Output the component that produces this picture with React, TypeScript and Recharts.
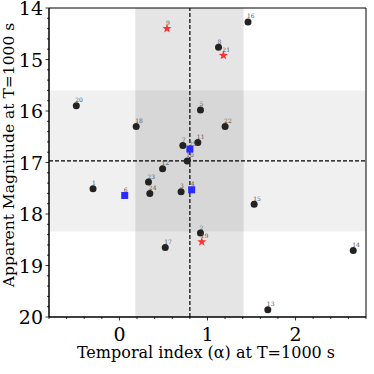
import { ScatterChart, Scatter, XAxis, YAxis, ReferenceArea, ReferenceLine, Label } from "recharts";

// black circles
const circleIds = ["1", "2", "3", "5", "7", "8", "10", "11", "12", "13", "14", "15", "16", "17", "18", "20", "22", "23", "24"];
const circleAlpha = [-0.3, 0.92, 0.7, 0.92, 0.72, 1.125, 0.77, 0.89, 0.49, 1.685, 2.655, 1.53, 1.46, 0.52, 0.19, -0.49, 1.2, 0.33, 0.345];
const circleMag = [17.51, 18.37, 17.57, 15.98, 16.67, 14.76, 16.97, 16.61, 17.12, 19.86, 18.71, 17.81, 14.27, 18.65, 16.3, 15.9, 16.3, 17.38, 17.6];

// blue squares
const squareIds = ["6", "4", "25"];
const squareAlpha = [0.06, 0.82, 0.8];
const squareMag = [17.64, 17.53, 16.74];

// red stars
const starIds = ["9", "21", "19"];
const starAlpha = [0.54, 1.18, 0.935];
const starMag = [14.4, 14.92, 18.54];

const xTicks = [-0.8, -0.6, -0.4, -0.2, 0, 0.2, 0.4, 0.6, 0.8, 1, 1.2, 1.4, 1.6, 1.8, 2, 2.2, 2.4, 2.6, 2.8];
const yTicks = [14, 14.2, 14.4, 14.6, 14.8, 15, 15.2, 15.4, 15.6, 15.8, 16, 16.2, 16.4, 16.6, 16.8, 17, 17.2, 17.4, 17.6, 17.8, 18, 18.2, 18.4, 18.6, 18.8, 19, 19.2, 19.4, 19.6, 19.8, 20];

const alphaBand = [0.18, 1.41];
const magBand = [15.6, 18.34];
const alphaMedian = 0.8;
const magMedian = 16.97;

const build = (ids: string[], xs: number[], ys: number[]) =>
  ids.map((id, i) => ({ id, alpha: xs[i], mag: ys[i] }));

const circles = build(circleIds, circleAlpha, circleMag);
const squares = build(squareIds, squareAlpha, squareMag);
const stars = build(starIds, starAlpha, starMag);

const FONT = "'DejaVu Serif', serif";
const isMajor = (v: number) => Math.abs(v - Math.round(v)) < 1e-6;

const XTick = ({ x, y, payload }: any) => {
  const major = isMajor(payload.value);
  return (
    <g>
      <line x1={x} y1={y} x2={x} y2={y + (major ? 3.5 : 2)} stroke="#000" strokeWidth={0.8} />
      {major && (
        <text x={x} y={y + 23.5} textAnchor="middle" fontSize={19} fontFamily={FONT} fill="#000">
          {Math.round(payload.value)}
        </text>
      )}
    </g>
  );
};

const YTick = ({ x, y, payload }: any) => {
  const major = isMajor(payload.value);
  return (
    <g>
      <line x1={x} y1={y} x2={x - (major ? 3.5 : 2)} y2={y} stroke="#000" strokeWidth={0.8} />
      {major && (
        <text x={x - 6} y={y + 7} textAnchor="end" fontSize={19} fontFamily={FONT} fill="#000">
          {Math.round(payload.value)}
        </text>
      )}
    </g>
  );
};

const tag = (cx: number, cy: number, id: string) => (
  <text x={cx - 1} y={cy - 3.5} fontSize={6} fontFamily={FONT} fill="#555">
    {id}
  </text>
);

const Circle = ({ cx, cy, payload }: any) => (
  <g>
    <circle cx={cx} cy={cy} r={3.5} fill="#222" />
    {tag(cx, cy, payload.id)}
  </g>
);

const Square = ({ cx, cy, payload }: any) => (
  <g>
    <rect x={cx - 3.5} y={cy - 3.5} width={7} height={7} fill="#2b2bff" />
    {tag(cx, cy, payload.id)}
  </g>
);

const starPath = (cx: number, cy: number, ro: number, ri: number) => {
  const pts: string[] = [];
  for (let i = 0; i < 10; i++) {
    const r = i % 2 === 0 ? ro : ri;
    const a = -Math.PI / 2 + (i * Math.PI) / 5;
    pts.push(`${(cx + r * Math.cos(a)).toFixed(2)},${(cy + r * Math.sin(a)).toFixed(2)}`);
  }
  return `M${pts.join("L")}Z`;
};

const Star = ({ cx, cy, payload }: any) => (
  <g>
    <path d={starPath(cx, cy, 4.8, 2)} fill="#ff3333" />
    {tag(cx, cy, payload.id)}
  </g>
);

export default function App() {
  return (
    <div style={{ position: "fixed", top: 0, left: 0, width: 374, height: 374, background: "#fff" }}>
      <ScatterChart width={374} height={374} margin={{ top: 8, right: 8, left: 0, bottom: 0 }}>
        <XAxis
          type="number"
          dataKey="alpha"
          domain={[-0.8, 2.8]}
          ticks={xTicks}
          interval={0}
          allowDataOverflow
          height={57}
          tickSize={0}
          tickMargin={0}
          tickLine={false}
          axisLine={{ stroke: "#000" }}
          tick={<XTick />}
        >
          <Label
            content={() => (
              <text x={206} y={358} textAnchor="middle" fontSize={16} fontFamily={FONT} fill="#000">
                Temporal index (α) at T=1000 s
              </text>
            )}
          />
        </XAxis>
        <YAxis
          type="number"
          dataKey="mag"
          domain={[14, 20]}
          reversed
          ticks={yTicks}
          interval={0}
          allowDataOverflow
          width={49}
          tickSize={0}
          tickMargin={0}
          tickLine={false}
          axisLine={{ stroke: "#000" }}
          tick={<YTick />}
        >
          <Label
            content={() => (
              <text
                x={0}
                y={0}
                transform="translate(14,155) rotate(-90)"
                textAnchor="middle"
                fontSize={15.5}
                fontFamily={FONT}
                fill="#000"
              >
                Apparent Magnitude at T=1000 s
              </text>
            )}
          />
        </YAxis>
        <ReferenceArea x1={alphaBand[0]} x2={alphaBand[1]} y1={14} y2={20} fill="#000" fillOpacity={0.1} stroke="none" />
        <ReferenceArea x1={-0.8} x2={2.8} y1={magBand[0]} y2={magBand[1]} fill="#000" fillOpacity={0.06} stroke="none" />
        <ReferenceLine x={alphaMedian} stroke="#000" strokeDasharray="4 2" strokeWidth={1.2} />
        <ReferenceLine y={magMedian} stroke="#000" strokeDasharray="4 2" strokeWidth={1.2} />
        <ReferenceArea x1={-0.8} x2={2.8} y1={14} y2={20} fill="none" stroke="#000" strokeWidth={1} />
        <Scatter data={circles} shape={<Circle />} isAnimationActive={false} />
        <Scatter data={squares} shape={<Square />} isAnimationActive={false} />
        <Scatter data={stars} shape={<Star />} isAnimationActive={false} />
      </ScatterChart>
    </div>
  );
}
